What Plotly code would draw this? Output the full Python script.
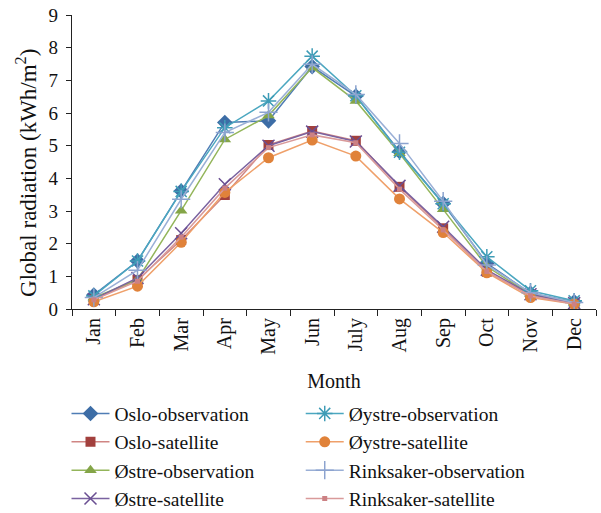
import plotly.graph_objects as go

months = ["Jan", "Feb", "Mar", "Apr", "May", "Jun", "July", "Aug", "Sep", "Oct", "Nov", "Dec"]

oslo_obs = [0.43, 1.47, 3.61, 5.71, 5.76, 7.42, 6.52, 4.82, 3.23, 1.40, 0.48, 0.22]
oslo_sat = [0.30, 0.89, 2.11, 3.49, 5.02, 5.45, 5.15, 3.74, 2.47, 1.14, 0.43, 0.17]
ostre_obs = [0.35, 0.90, 3.01, 5.19, 5.92, 7.39, 6.37, 4.77, 3.05, 1.30, 0.45, 0.20]
ostre_sat = [0.30, 0.95, 2.32, 3.82, 5.00, 5.43, 5.13, 3.77, 2.52, 1.20, 0.45, 0.18]
oystre_obs = [0.40, 1.47, 3.60, 5.55, 6.37, 7.74, 6.53, 4.80, 3.22, 1.60, 0.56, 0.25]
oystre_sat = [0.22, 0.70, 2.04, 3.57, 4.63, 5.17, 4.68, 3.37, 2.34, 1.11, 0.35, 0.15]
rink_obs = [0.35, 1.19, 3.36, 5.40, 6.02, 7.49, 6.57, 5.07, 3.30, 1.35, 0.50, 0.20]
rink_sat = [0.28, 0.85, 2.20, 3.70, 4.94, 5.33, 5.09, 3.67, 2.42, 1.15, 0.40, 0.15]

series = [
    ("Oslo-observation", oslo_obs, "#4F7DB5", "#3D6DA6", "diamond", 12, "legend"),
    ("Oslo-satellite", oslo_sat, "#D08583", "#A2403D", "square", 10, "legend"),
    ("Østre-observation", ostre_obs, "#93B55A", "#84A548", "triangle-up", 11, "legend"),
    ("Østre-satellite", ostre_sat, "#7A62A0", "#6A4F92", "x-thin-open", 12, "legend"),
    ("Øystre-observation", oystre_obs, "#4BA7C0", "#3E9CB6", "asterisk-open", 13, "legend2"),
    ("Øystre-satellite", oystre_sat, "#EFA06A", "#E0823A", "circle", 11, "legend2"),
    ("Rinksaker-observation", rink_obs, "#9AAFD6", "#8CA3CF", "cross-thin-open", 13, "legend2"),
    ("Rinksaker-satellite", rink_sat, "#D99A9A", "#CC8184", "square", 5, "legend2"),
]

fig = go.Figure()
for name, vals, lc, mc, sym, size, lg in series:
    open_sym = sym.endswith("open")
    fig.add_trace(go.Scatter(
        x=months, y=vals, name=name, mode="lines+markers",
        line=dict(color=lc, width=1.5),
        marker=dict(symbol=sym, size=size, color=mc,
                    line=dict(color=mc, width=1.5 if open_sym else 0)),
        legend=lg,
    ))

font_family = "Liberation Serif"
fig.update_layout(
    width=601, height=513,
    margin=dict(l=72, r=5, t=15, b=204, autoexpand=False),
    paper_bgcolor="white", plot_bgcolor="white",
    font=dict(family=font_family, size=20, color="#111"),
    showlegend=True,
    legend=dict(x=-0.0105, y=-0.29, xanchor="left", yanchor="top",
                font=dict(size=19.5), tracegroupgap=0, itemwidth=38,
                bgcolor="rgba(0,0,0,0)"),
    legend2=dict(x=0.4365, y=-0.29, xanchor="left", yanchor="top",
                 font=dict(size=19.5), tracegroupgap=0, itemwidth=38,
                 bgcolor="rgba(0,0,0,0)"),
    xaxis=dict(
        type="category", range=[-0.5, 11.5], tickangle=-90, automargin=False,
        showline=True, linecolor="#222", linewidth=1.2,
        ticks="outside", ticklen=6, tickcolor="#222", tickson="boundaries",
        showgrid=False, zeroline=False,
        title=dict(text="Month", font=dict(size=20), standoff=20),
        tickfont=dict(size=20),
    ),
    yaxis=dict(
        range=[0, 9], dtick=1, automargin=False,
        showline=True, linecolor="#222", linewidth=1.2,
        ticks="outside", ticklen=5, tickcolor="#222",
        ticklabelstandoff=4,
        showgrid=False, zeroline=False,
        tickfont=dict(size=19),
    ),
    annotations=[dict(
        text="Global radiation (kWh/m<sup>2</sup>)",
        xref="paper", yref="paper", x=0, y=0.463, xshift=-45,
        xanchor="center", yanchor="middle", textangle=-90, showarrow=False,
        font=dict(size=23, family=font_family, color="#111"),
    )],
)

fig.write_html("out.html", config={"displayModeBar": False},
               post_script="document.body.style.margin='0';")
